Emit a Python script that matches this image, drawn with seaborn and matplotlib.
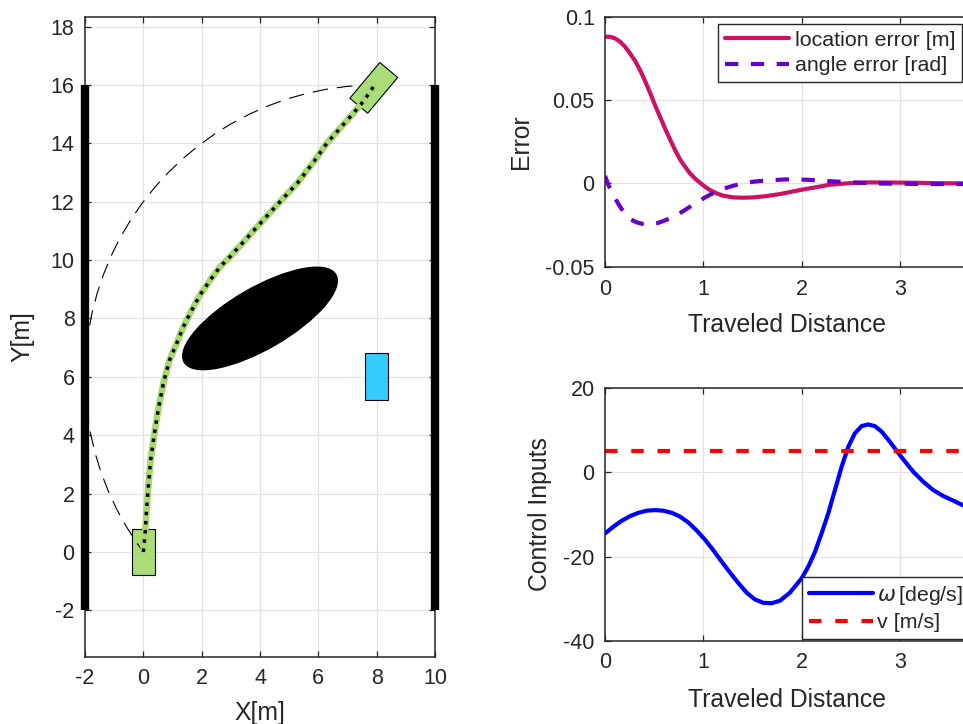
import matplotlib
matplotlib.use("Agg")
import matplotlib.pyplot as plt
from matplotlib import patches
import seaborn as sns

# ---- left panel: path planning scene ----
path_x = [0.0, 0.06, 0.11, 0.17, 0.25, 0.37, 0.51, 0.69, 0.90, 1.14, 1.37, 1.6, 1.94, 2.29,
          2.63, 2.97, 3.54, 4.11, 4.69, 5.3, 5.89, 6.29, 6.74, 7.2, 7.54, 7.91]
path_y = [0.0, 0.64, 1.44, 2.24, 3.15, 4.0, 4.87, 5.8, 6.58, 7.14, 7.71, 8.17, 8.8, 9.31,
          9.77, 10.11, 10.74, 11.37, 12.0, 12.66, 13.43, 14.0, 14.51, 15.03, 15.43, 15.97]
wall_x = [-2, 10]
wall_y = [-2, 16]
arc_center = (8, 6)
arc_radius = 10
arc_angles = (90, 216.87)
obstacle_center = (4, 8)
obstacle_size = (6, 2.1)
obstacle_angle = 30
target_center = (8, 6)
car_size = (0.8, 1.6)
start_pose = (0.0, 0.0, 0)
goal_pose = (7.9, 15.9, -40)

# ---- right top: tracking errors ----
loc_x = [0, 0.051, 0.102, 0.153, 0.203, 0.254, 0.305, 0.356, 0.407, 0.458, 0.508, 0.559,
         0.610, 0.661, 0.712, 0.763, 0.814, 0.864, 0.915, 0.966, 1.017, 1.068, 1.136, 1.203,
         1.305, 1.407, 1.508, 1.644, 1.78, 1.983, 2.29, 2.5, 2.69, 3.13, 3.4, 3.7]
loc_y = [0.088, 0.088, 0.087, 0.085, 0.082, 0.078, 0.0736, 0.068, 0.0614, 0.0544, 0.047, 0.040,
         0.033, 0.0264, 0.020, 0.0144, 0.010, 0.006, 0.003, 0.0004, -0.002, -0.004, -0.006,
         -0.0074, -0.0084, -0.0086, -0.0084, -0.0076, -0.0064, -0.004, -0.0008, 0.0002, 0.0006,
         0.0004, 0.0001, 0.0]
ang_x = [0, 0.034, 0.085, 0.136, 0.186, 0.254, 0.322, 0.39, 0.458, 0.525, 0.593, 0.661, 0.729,
         0.797, 0.864, 0.932, 1.0, 1.068, 1.136, 1.203, 1.305, 1.407, 1.508, 1.644, 1.847, 2.05,
         2.32, 2.6, 2.83, 3.1, 3.4, 3.7]
ang_y = [0.0045, -0.001, -0.007, -0.0124, -0.017, -0.0214, -0.0234, -0.0244, -0.0246, -0.024,
         -0.0226, -0.021, -0.019, -0.0166, -0.014, -0.0114, -0.009, -0.0068, -0.0048, -0.0032,
         -0.0014, 0.0, 0.001, 0.0018, 0.0024, 0.0022, 0.0012, 0.0004, -0.0001, -0.0003, -0.0004,
         -0.0004]

# ---- right bottom: control inputs ----
om_x = [0, 0.085, 0.169, 0.254, 0.339, 0.424, 0.508, 0.593, 0.678, 0.763, 0.847, 0.932, 1.017,
        1.102, 1.186, 1.271, 1.356, 1.441, 1.525, 1.61, 1.695, 1.78, 1.88, 2.0, 2.068, 2.136,
        2.203, 2.271, 2.339, 2.407, 2.475, 2.542, 2.61, 2.678, 2.746, 2.814, 2.881, 2.949, 3.034,
        3.136, 3.237, 3.339, 3.44, 3.542, 3.64, 3.7]
om_y = [-14.5, -12.9, -11.5, -10.4, -9.6, -9.1, -8.96, -9.1, -9.6, -10.5, -11.9, -13.8, -16.0,
        -18.5, -21.2, -23.8, -26.3, -28.6, -30.2, -31.0, -31.1, -30.5, -28.6, -25.2, -22.4,
        -18.9, -14.5, -9.75, -4.2, 1.35, 6.1, 9.3, 11.0, 11.4, 11.0, 9.7, 7.8, 5.7, 3.1, 0.16,
        -2.2, -4.2, -5.6, -6.7, -7.8, -8.2]
v_x = [0, 3.7]
v_y = [5, 5]

sns.set_style("ticks")
plt.rcParams["font.family"] = ["Liberation Sans", "DejaVu Sans"]
plt.rcParams["axes.unicode_minus"] = False
plt.rcParams["axes.axisbelow"] = True

dark = "#262626"
green = "#aadd77"
tick_fs = 15.5
label_fs = 17.8
legend_fs = 15.4


def style_axes(ax):
    ax.grid(True, color="#e3e3e3", lw=0.9)
    ax.tick_params(direction="in", top=True, right=True, length=4.5, width=0.9,
                   colors=dark, labelsize=tick_fs)
    ax.tick_params(axis="x", pad=8.5)
    ax.tick_params(axis="y", pad=7.5)
    for s in ax.spines.values():
        s.set_color(dark)
        s.set_linewidth(1.1)


def add_legend(ax, anchor, textpad=0.3):
    ax.legend(loc="upper left", bbox_to_anchor=anchor, fontsize=legend_fs, frameon=True,
              fancybox=False, framealpha=1, edgecolor=dark, handlelength=3.0,
              handletextpad=textpad, borderpad=0.3, labelspacing=0.3, borderaxespad=0)


fig = plt.figure(figsize=(9.63, 7.24), dpi=100)

# left
ax1 = fig.add_axes([0.0883, 0.093, 0.3634, 0.884])
ax1.add_patch(patches.Ellipse(obstacle_center, obstacle_size[0], obstacle_size[1],
                              angle=obstacle_angle, color="black", zorder=2))
ax1.add_patch(patches.Rectangle((target_center[0] - car_size[0] / 2, target_center[1] - car_size[1] / 2),
                                car_size[0], car_size[1], facecolor="#33ccff", edgecolor="black",
                                lw=0.8, zorder=2))
ax1.add_patch(patches.Rectangle((start_pose[0] - car_size[0] / 2, start_pose[1] - car_size[1] / 2),
                                car_size[0], car_size[1], angle=start_pose[2], rotation_point="center",
                                facecolor=green, edgecolor="black", lw=0.8, zorder=2))
ax1.add_patch(patches.Arc(arc_center, 2 * arc_radius, 2 * arc_radius, theta1=arc_angles[0],
                          theta2=arc_angles[1], color="black", lw=0.8, ls=(0, (14, 8)), zorder=3))
ax1.add_patch(patches.Rectangle((goal_pose[0] - car_size[0] / 2, goal_pose[1] - car_size[1] / 2),
                                car_size[0], car_size[1], angle=goal_pose[2], rotation_point="center",
                                facecolor=green, edgecolor="black", lw=0.8, zorder=4))
sns.lineplot(x=path_x, y=path_y, sort=False, estimator=None, color="#a8d870", lw=4.8,
             ax=ax1, zorder=5)
sns.lineplot(x=path_x, y=path_y, sort=False, estimator=None, color="black", lw=2.5, ls=":",
             ax=ax1, zorder=6)
ax1.vlines(wall_x, wall_y[0], wall_y[1], colors="black", lw=6, zorder=7, clip_on=False)
ax1.set_xlim(-2, 10)
ax1.set_ylim(-3.59, 18.34)
ax1.set_xticks(range(-2, 11, 2))
ax1.set_yticks(range(-2, 19, 2))
style_axes(ax1)
ax1.set_xlabel("X[m]", fontsize=label_fs, color=dark)
ax1.set_ylabel("Y[m]", fontsize=label_fs, color=dark)
ax1.xaxis.set_label_coords(0.5, -0.07)
ax1.yaxis.set_label_coords(-0.145, 0.5)

# right top
ax2 = fig.add_axes([0.6283, 0.6316, 0.3776, 0.3453])
sns.lineplot(x=loc_x, y=loc_y, color="#cc1166", lw=3, ax=ax2, label="location error [m]")
sns.lineplot(x=ang_x, y=ang_y, color="#6600cc", lw=3, ls=(0, (3.2, 3.0)), ax=ax2,
             label="angle error [rad]")
ax2.set_xlim(0, 3.7)
ax2.set_ylim(-0.05, 0.1)
ax2.set_xticks([0, 1, 2, 3])
ax2.set_yticks([-0.05, 0, 0.05, 0.1])
ax2.set_yticklabels(["-0.05", "0", "0.05", "0.1"])
style_axes(ax2)
ax2.set_xlabel("Traveled Distance", fontsize=label_fs, color=dark)
ax2.set_ylabel("Error", fontsize=label_fs, color=dark)
ax2.xaxis.set_label_coords(0.5, -0.186)
ax2.yaxis.set_label_coords(-0.197, 0.5)
add_legend(ax2, (0.3115, 0.9696))

# right bottom
ax3 = fig.add_axes([0.6283, 0.1151, 0.3776, 0.3486])
sns.lineplot(x=om_x, y=om_y, color="#0000ff", lw=3, ax=ax3, label=r"$\omega\,$[deg/s]")
sns.lineplot(x=v_x, y=v_y, color="#ff0000", lw=3, ls=(0, (3.0, 3.3)), ax=ax3, label="v [m/s]")
ax3.set_xlim(0, 3.7)
ax3.set_ylim(-40, 20)
ax3.set_xticks([0, 1, 2, 3])
ax3.set_yticks([-40, -20, 0, 20])
style_axes(ax3)
ax3.set_xlabel("Traveled Distance", fontsize=label_fs, color=dark)
ax3.set_ylabel("Control Inputs", fontsize=label_fs, color=dark)
ax3.xaxis.set_label_coords(0.5, -0.186)
ax3.yaxis.set_label_coords(-0.1466, 0.5)
add_legend(ax3, (0.5425, 0.2512), textpad=0.2)

fig.savefig("out.png", dpi=100)
